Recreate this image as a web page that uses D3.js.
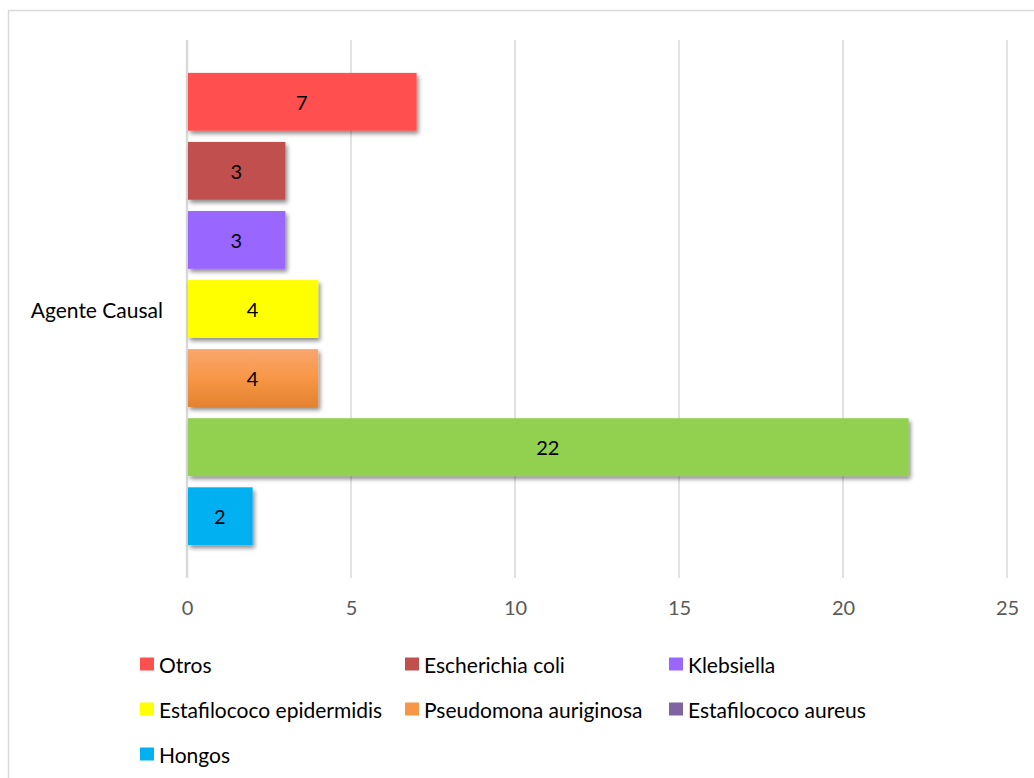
<!DOCTYPE html>
<html><head><meta charset="utf-8">
<script src="https://cdn.jsdelivr.net/npm/d3@7"></script>
<style>body{margin:0;background:#fff}svg{display:block;font-family:Lato,"Open Sans",sans-serif}</style>
</head><body>
<svg id="c" width="1034" height="778"></svg>
<script>
const series = ["Otros","Escherichia coli","Klebsiella","Estafilococo epidermidis","Pseudomona auriginosa","Estafilococo aureus","Hongos"];
const values = [7,3,3,4,4,22,2];
const barColors = ["#FF5050","#C0504D","#9966FF","#FFFF00","url(#orangeGrad)","#92D050","#00B0F0"];
const legendColors = ["#FF5050","#C0504D","#9966FF","#FFFF00","#F79646","#8064A2","#00B0F0"];
const xTicks = [0,5,10,15,20,25];
const category = "Agente Causal";

(function(){
const svg = d3.select("#c");
const defs = svg.append("defs");
const g1 = defs.append("linearGradient").attr("id","orangeGrad").attr("x1",0).attr("y1",0).attr("x2",0).attr("y2",1);
g1.append("stop").attr("offset","0%").attr("stop-color","#F9A66E");
g1.append("stop").attr("offset","50%").attr("stop-color","#F79646");
g1.append("stop").attr("offset","100%").attr("stop-color","#E3822F");
const f = defs.append("filter").attr("id","shadow").attr("x","-10%").attr("y","-20%").attr("width","130%").attr("height","160%");
f.append("feDropShadow").attr("dx",2).attr("dy",3).attr("stdDeviation",2).attr("flood-color","#000").attr("flood-opacity",0.45);

svg.append("rect").attr("x",8.5).attr("y",10.5).attr("width",1030).attr("height",800)
  .attr("fill","none").attr("stroke","#D9D9D9").attr("stroke-width",1.5);

const pl=187, pr=1007, pt=40, pb=578;
const x = d3.scaleLinear().domain([0,25]).range([pl,pr]);
const y = d3.scaleBand().domain(series).range([pt,pb]).paddingInner(0.163).paddingOuter(0.476);

svg.append("g").selectAll("line").data(xTicks).join("line")
  .attr("x1",d=>x(d)).attr("x2",d=>x(d)).attr("y1",pt).attr("y2",pb)
  .attr("stroke","#D9D9D9").attr("stroke-width",d=>d===0?2.5:1.5);

const ax = svg.append("g").attr("transform",`translate(0,${pb})`)
  .call(d3.axisBottom(x).tickValues(xTicks).tickSize(0).tickPadding(23));
ax.select(".domain").remove();
ax.selectAll("text").attr("fill","#595959").style("font-size","20px").style("font-family","Lato,'Open Sans',sans-serif");

const bars = svg.append("g");
bars.selectAll("rect").data(series).join("rect")
  .attr("x",x(0)+1).attr("y",d=>y(d)).attr("width",(d,i)=>x(values[i])-x(0)-1).attr("height",y.bandwidth())
  .attr("fill",(d,i)=>barColors[i]).attr("filter","url(#shadow)");
bars.selectAll("text").data(series).join("text")
  .attr("x",(d,i)=>(x(0)+x(values[i]))/2).attr("y",d=>y(d)+y.bandwidth()/2)
  .attr("text-anchor","middle").attr("dominant-baseline","central")
  .style("font-size","20px").attr("fill","#000").text((d,i)=>values[i]);

svg.append("text").attr("x",163).attr("y",(pt+pb)/2).attr("text-anchor","end").attr("dominant-baseline","central")
  .style("font-size","21px").attr("fill","#000").text(category);

const colX=[140,405,669], rowY=[664,709,754];
const lg = svg.append("g").selectAll("g").data(series).join("g")
  .attr("transform",(d,i)=>`translate(${colX[i%3]},${rowY[Math.floor(i/3)]})`);
lg.append("rect").attr("x",0).attr("y",-6.5).attr("width",14).attr("height",13).attr("fill",(d,i)=>legendColors[i]);
lg.append("text").attr("x",19).attr("y",0).attr("dominant-baseline","central").style("font-size","21px").attr("fill","#000").text(d=>d);
})();
</script>
</body></html>
